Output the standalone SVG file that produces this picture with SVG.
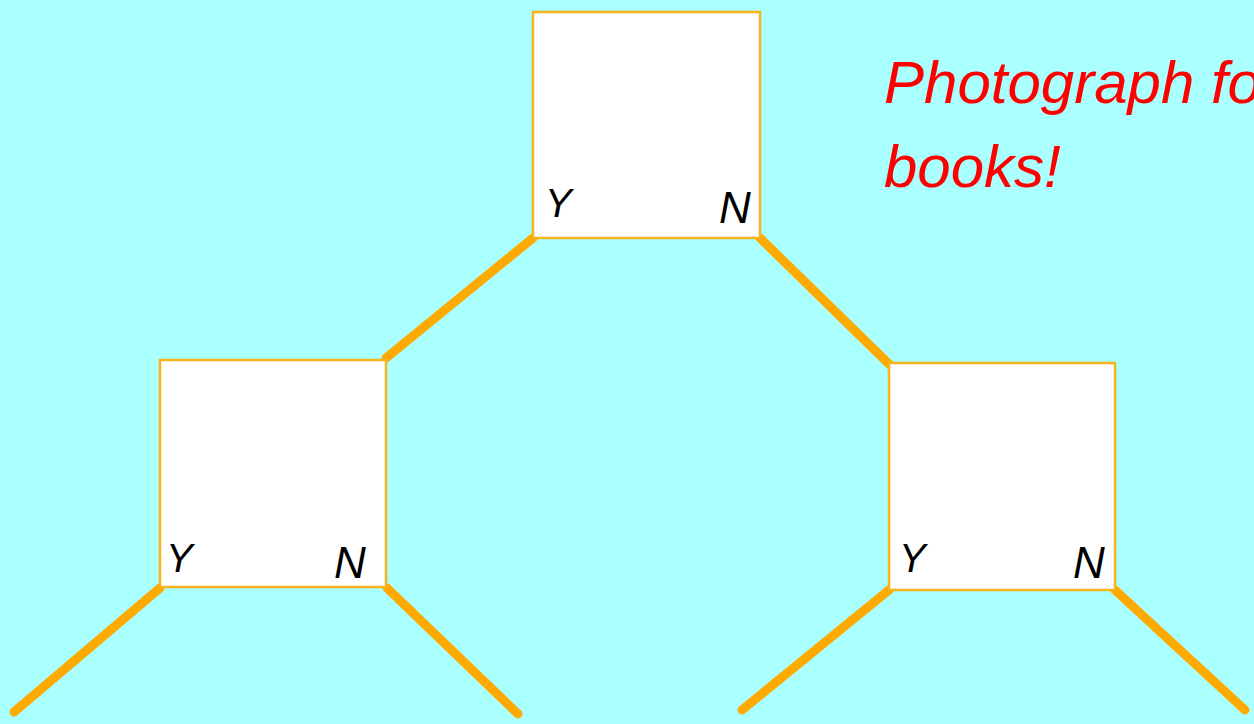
<svg xmlns="http://www.w3.org/2000/svg" width="1254" height="724" viewBox="0 0 1254 724">
<style>
.box{fill:#FFFFFF;stroke:#F7B21C;stroke-width:2.5}
.lbl{font-family:"Liberation Sans",Arial,sans-serif;font-style:italic;font-size:44px;fill:#000}
.y{font-size:40px}
.con{stroke:#FFAA00;stroke-width:9;stroke-linecap:round;fill:none}
.note{font-family:"Liberation Sans",Arial,sans-serif;font-style:italic;font-size:60px;fill:#FF0000}
</style>
<rect width="1254" height="724" fill="#AAFFFF"/>
<g id="connectors">
<line class="con" x1="533" y1="238" x2="386" y2="358"/>
<line class="con" x1="760" y1="238" x2="890" y2="365"/>
<line class="con" x1="160" y1="588" x2="14" y2="712"/>
<line class="con" x1="387" y1="588" x2="518" y2="714"/>
<line class="con" x1="889" y1="590" x2="742" y2="710"/>
<line class="con" x1="1115" y1="590" x2="1245" y2="710"/>
</g>
<g id="node-top">
<rect class="box" x="533" y="12" width="227" height="226"/>
<text class="lbl y" x="545" y="217">Y</text>
<text class="lbl" x="719" y="223">N</text>
</g>
<g id="node-left">
<rect class="box" x="160" y="360" width="226" height="227"/>
<text class="lbl y" x="166" y="572">Y</text>
<text class="lbl" x="334" y="578">N</text>
</g>
<g id="node-right">
<rect class="box" x="889" y="363" width="226" height="227"/>
<text class="lbl y" x="899" y="572">Y</text>
<text class="lbl" x="1073" y="578">N</text>
</g>
<g id="note">
<text class="note" x="884" y="103">Photograph for</text>
<text class="note" x="884" y="187">books!</text>
</g>
</svg>
